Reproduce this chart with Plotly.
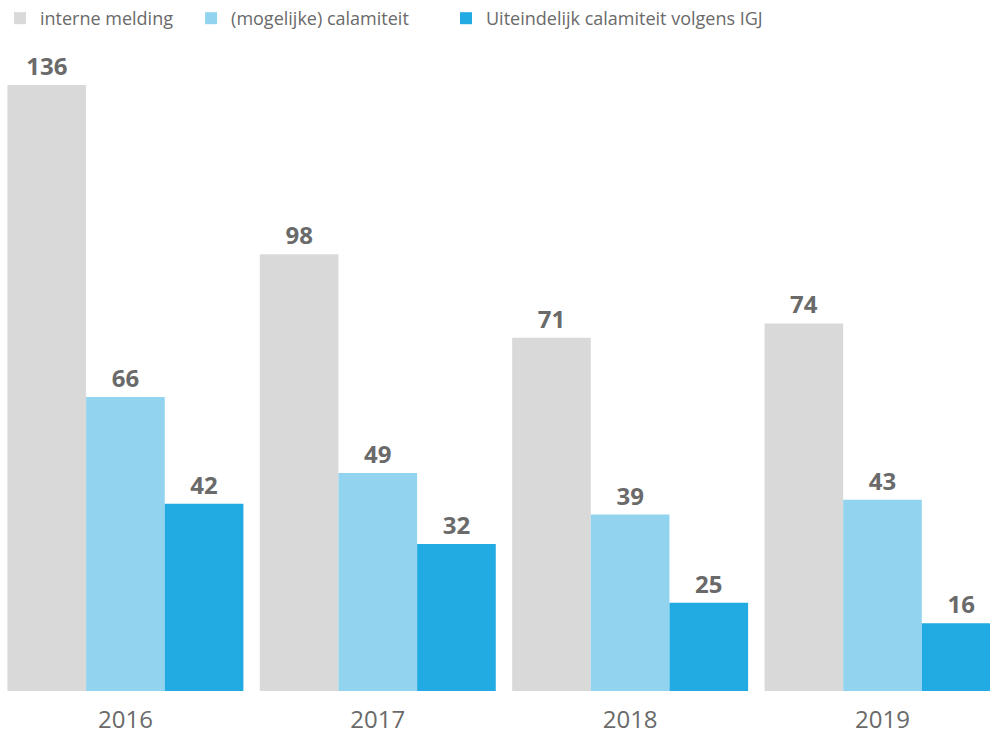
import plotly.graph_objects as go

years = ["2016", "2017", "2018", "2019"]
series_names = ["interne melding", "(mogelijke) calamiteit", "Uiteindelijk calamiteit volgens IGJ"]

# values printed above the bars
interne_labels = [136, 98, 71, 74]
mogelijk_labels = [66, 49, 39, 43]
igj_labels = [42, 32, 25, 16]

# bar heights as drawn in the reference picture
interne = [136, 98, 79.3, 82.5]
mogelijk = [66, 48.9, 39.6, 42.9]
igj = [42, 33, 19.8, 15.2]

colors = ["#D9D9D9", "#92D3F0", "#22AAE2"]

FONT = "Open Sans"
TXT = "#6A6A6A"

legend_ids = ["legend", "legend2", "legend3"]
legend_x = [0.0, 0.193, 0.4505]

fig = go.Figure()
for name, vals, labels, col, lg in zip(series_names, [interne, mogelijk, igj],
                                       [interne_labels, mogelijk_labels, igj_labels],
                                       colors, legend_ids):
    fig.add_trace(go.Bar(
        x=years, y=vals, name=name, marker=dict(color=col, line=dict(width=0)),
        text=[str(v) for v in labels], textposition="outside", cliponaxis=False,
        textfont=dict(family=FONT, size=24, color=TXT, weight="bold"),
        hoverinfo="skip", legend=lg, showlegend=True,
    ))

legend_common = dict(orientation="h", xanchor="left", y=1.0, yref="container",
                     yanchor="top", font=dict(family=FONT, size=18, color=TXT),
                     bgcolor="rgba(0,0,0,0)", visible=True)

fig.update_layout(
    width=990, height=734,
    margin=dict(l=0, r=0, t=40, b=43, autoexpand=False),
    barmode="group", bargap=0.065, bargroupgap=0,
    plot_bgcolor="white", paper_bgcolor="white",
    font=dict(family=FONT, color=TXT),
    showlegend=True,
    legend=dict(x=legend_x[0], **legend_common),
    legend2=dict(x=legend_x[1], **legend_common),
    legend3=dict(x=legend_x[2], **legend_common),
    xaxis=dict(type="category", range=[-0.497, 3.426], showline=False, showgrid=False,
               ticks="", ticklabelstandoff=12,
               tickfont=dict(family=FONT, size=24, color=TXT)),
    yaxis=dict(range=[0, 146.1], visible=False),
)

fig.write_html("out.html", config={"displayModeBar": False},
               post_script="document.body.style.margin='0';")
